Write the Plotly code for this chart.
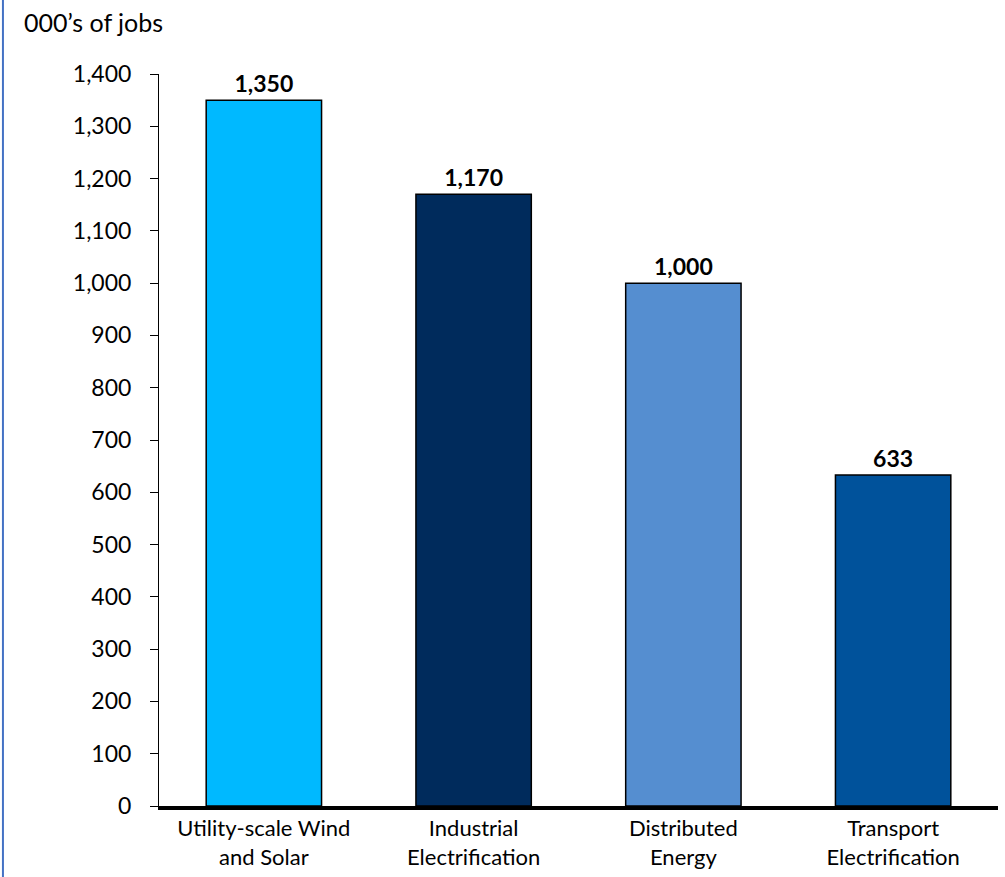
import plotly.graph_objects as go

categories = ["Utility-scale Wind<br>and Solar", "Industrial<br>Electrification",
              "Distributed<br>Energy", "Transport<br>Electrification"]
jobs = [1350, 1170, 1000, 633]
bar_colors = ["#00B9FF", "#002B5C", "#558ED0", "#00529B"]
y_ticks = list(range(0, 1401, 100))

font_family = "Lato, 'Noto Sans', sans-serif"

fig = go.Figure()
fig.add_trace(go.Bar(
    x=categories, y=jobs,
    marker=dict(color=bar_colors, line=dict(color="black", width=1.5)),
    text=[f"{v:,}" for v in jobs], textposition="outside",
    textfont=dict(size=23, color="black", family=font_family, weight="bold"),
    cliponaxis=False,
))

fig.update_layout(
    width=1005, height=877,
    margin=dict(l=159, r=7, t=74, b=66),
    paper_bgcolor="white", plot_bgcolor="white",
    font=dict(family=font_family, size=22, color="black"),
    bargap=0.45, showlegend=False,
    annotations=[dict(text="000’s of jobs", xref="paper", yref="paper",
                      x=-0.163, y=1.0706, xanchor="left", yanchor="middle",
                      showarrow=False, font=dict(size=25))],
    shapes=[dict(type="line", xref="paper", yref="paper",
                 x0=-0.186, x1=-0.186, y0=-0.1, y1=1.12,
                 line=dict(color="#4472C4", width=2))],
)
fig.update_yaxes(range=[0, 1400], tickvals=y_ticks, tickformat=",d",
                 showgrid=False, zeroline=False, showline=True, linecolor="black",
                 linewidth=1, ticks="outside", ticklen=8, tickcolor="black",
                 ticklabelstandoff=14, tickfont=dict(size=23))
fig.update_xaxes(showline=True, linecolor="black", linewidth=4, ticks="",
                 showgrid=False, tickfont=dict(size=22))

# drop the page's default body margin so the figure sits at the window corner
fig.write_html("out.html", config={"displayModeBar": False},
               post_script="document.body.style.margin='0';")
